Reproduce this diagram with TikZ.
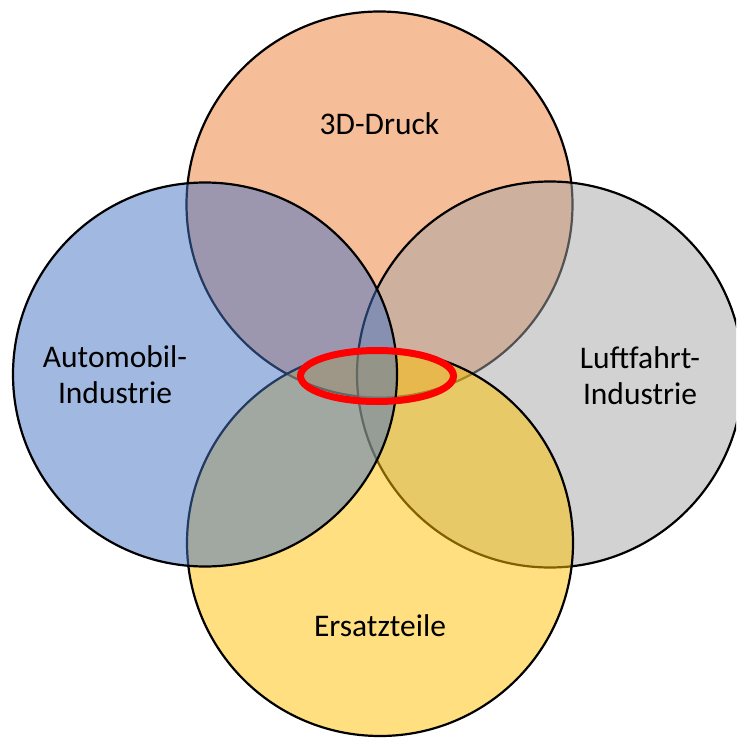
\documentclass[tikz,border=0pt]{standalone}
\usepackage{fontspec}
\setmainfont{Carlito}
\usetikzlibrary{shapes.geometric}
\definecolor{cOrange}{HTML}{ED7D31}
\definecolor{cBlue}{HTML}{4472C4}
\definecolor{cGray}{HTML}{A5A5A5}
\definecolor{cYellow}{HTML}{FFC000}
\tikzset{
  venn/.style={circle, draw=black, line width=2.2pt, fill opacity=0.5, text opacity=1, minimum size=386pt, inner sep=0pt},
  lbl/.style={font=\fontsize{31.5}{36}\selectfont, align=center, text=black, inner sep=0pt},
}
\begin{document}
\begin{tikzpicture}[x=1pt,y=-1pt]
\useasboundingbox (0,0) rectangle (736,738);
\clip (0,0) rectangle (736,738);
\node[venn, fill=cOrange] (druck) at (379.5,204.5) {};
\node[venn, fill=cGray] (luft) at (550,374.5) {};
\node[venn, fill=cYellow] (ersatz) at (380,543) {};
\node[venn, fill=cBlue, minimum size=384pt] (auto) at (205,374.5) {};
\node[ellipse, draw=red, line width=7pt, minimum width=153pt, minimum height=51pt, inner sep=0pt] (core) at (377,376) {};
\node[lbl] (tdruck) at (379.5,124) {3D-Druck};
\node[lbl] (tauto) at (115,375) {Automobil-\\Industrie};
\node[lbl] (tluft) at (640,376) {Luftfahrt-\\Industrie};
\node[lbl] (tersatz) at (380,626) {Ersatzteile};
\end{tikzpicture}
\end{document}
